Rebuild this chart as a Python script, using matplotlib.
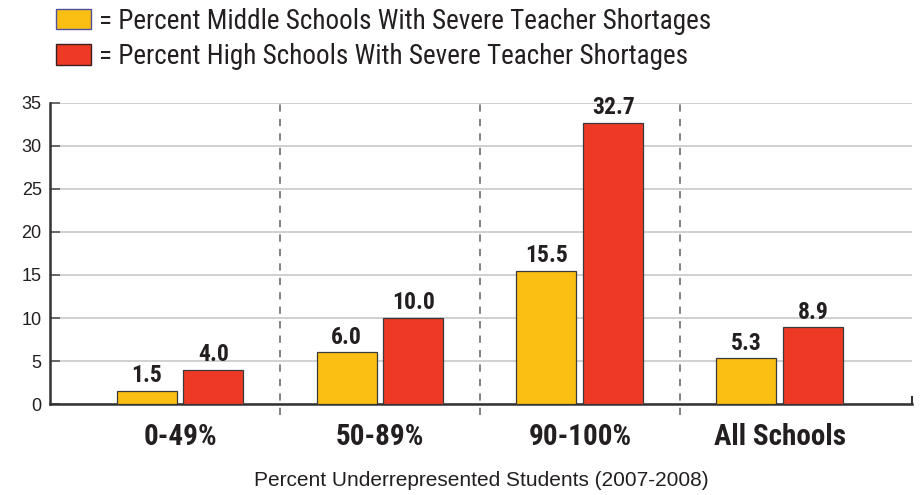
import matplotlib
matplotlib.use("Agg")
import matplotlib.pyplot as plt
import numpy as np
from matplotlib.patches import Patch

categories = ["0-49%", "50-89%", "90-100%", "All Schools"]
middle = [1.5, 6.0, 15.5, 5.3]
high = [4.0, 10.0, 32.7, 8.9]
yticks = [0, 5, 10, 15, 20, 25, 30, 35]

yellow = "#FBBF14"
red = "#EE3A24"
narrow = ["Roboto Condensed", "DejaVu Sans"]

fig = plt.figure(figsize=(9.21, 4.95), dpi=100)
ax = fig.add_axes([0.0543, 0.1838, 0.9357, 0.6082])

x = np.arange(len(categories))
w = 0.3
ax.bar(x - 0.167, middle, w, color=yellow, edgecolor="#3a3a3a", linewidth=0.9, zorder=3)
ax.bar(x + 0.167, high, w, color=red, edgecolor="#3a3a3a", linewidth=0.9, zorder=3)

for xi, v in zip(x, middle):
    ax.text(xi - 0.167, v + 0.45, f"{v:.1f}", ha="center", va="bottom",
            fontsize=17, fontweight="bold", family=narrow, color="#231f20")
for xi, v in zip(x, high):
    ax.text(xi + 0.167, v + 0.45, f"{v:.1f}", ha="center", va="bottom",
            fontsize=17, fontweight="bold", family=narrow, color="#231f20")

ax.set_xlim(-0.65, 3.66)
ax.set_ylim(0, 35)
ax.set_yticks(yticks)
ax.set_yticklabels([str(t) for t in yticks], fontsize=13, family="Liberation Sans", color="#231f20")
ax.yaxis.grid(True, color="#c8c8c8", linewidth=1.2, zorder=0)
ax.tick_params(axis="y", direction="in", length=7, width=1.2, color="#555555", pad=6)
ax.set_xticks(x)
ax.set_xticklabels(categories, fontsize=21, fontweight="bold", family=narrow, color="#231f20")
ax.tick_params(axis="x", length=0, pad=14)

# dashed separators between groups
for s in [0.5, 1.5, 2.5]:
    ax.plot([s, s], [-1.3, 35], ls=(0, (4, 4)), color="#777777", lw=1.3, clip_on=False, zorder=1)

for sp in ["top", "right"]:
    ax.spines[sp].set_visible(False)
ax.spines["left"].set_linewidth(1.8)
ax.spines["left"].set_color("#333333")
ax.spines["bottom"].set_linewidth(1.8)
ax.spines["bottom"].set_color("#333333")
ax.plot([3.66, 3.66], [0, 0.8], color="#333333", lw=1.5, clip_on=False)

ax.set_xlabel("Percent Underrepresented Students (2007-2008)", fontsize=15,
              family="Liberation Sans", color="#231f20", labelpad=14)

handles = [Patch(facecolor=yellow, edgecolor="#5050a0", linewidth=1),
           Patch(facecolor=red, edgecolor="#3a2020", linewidth=1)]
labels = ["= Percent Middle Schools With Severe Teacher Shortages",
          "= Percent High Schools With Severe Teacher Shortages"]
fig.legend(handles, labels, loc="upper left", bbox_to_anchor=(0.034, 1.034), frameon=False,
           prop={"family": narrow, "size": 19.5}, handlelength=1.3, handleheight=0.8,
           handletextpad=0.3, labelspacing=0.3, labelcolor="#231f20")

fig.savefig("out.png", dpi=100)
